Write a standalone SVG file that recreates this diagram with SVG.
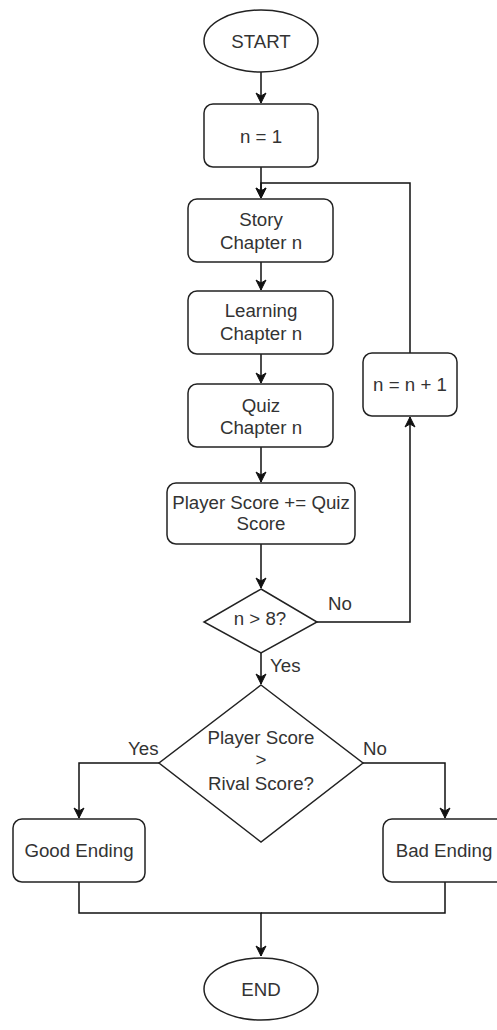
<svg xmlns="http://www.w3.org/2000/svg" width="497" height="1030" viewBox="0 0 497 1030">
<style>
.box{fill:#fff;stroke:#222;stroke-width:1.5}
.t{font-family:"Liberation Sans",Arial,sans-serif;font-size:18.7px;fill:#333;text-anchor:middle}
.lbl{font-family:"Liberation Sans",Arial,sans-serif;font-size:18.7px;fill:#333}
.c{fill:none;stroke:#111;stroke-width:1.5}
</style>
<defs>
<marker id="arr" viewBox="0 0 12 12" markerWidth="12" markerHeight="12" refX="11" refY="6" orient="auto" markerUnits="userSpaceOnUse">
<path d="M1,1 L11,6 L1,11 L4,6 Z" fill="#111" stroke="#111" stroke-width="1"/>
</marker>
</defs>
<rect width="497" height="1030" fill="#fff"/>
<g id="connectors">
<path class="c" d="M261,72 V103" marker-end="url(#arr)"/>
<path class="c" d="M261,167 V198" marker-end="url(#arr)"/>
<path class="c" d="M410,353 V183 H261 V198" marker-end="url(#arr)"/>
<path class="c" d="M261,262 V290" marker-end="url(#arr)"/>
<path class="c" d="M261,354 V383" marker-end="url(#arr)"/>
<path class="c" d="M261,447 V482" marker-end="url(#arr)"/>
<path class="c" d="M261,544 V588" marker-end="url(#arr)"/>
<path class="c" d="M317,622 H410 V417" marker-end="url(#arr)"/>
<path class="c" d="M261,653 V684" marker-end="url(#arr)"/>
<path class="c" d="M159,763 H79 V818" marker-end="url(#arr)"/>
<path class="c" d="M363,763 H445 V818" marker-end="url(#arr)"/>
<path class="c" d="M79,882 V913 H261 V956" marker-end="url(#arr)"/>
<path class="c" d="M445,882 V913 H261"/>
<text class="lbl" x="328" y="610">No</text>
<text class="lbl" x="270" y="672">Yes</text>
<text class="lbl" x="128" y="755">Yes</text>
<text class="lbl" x="363" y="755">No</text>
</g>
<g id="start">
<ellipse class="box" cx="261" cy="41" rx="57" ry="31"/>
<text class="t" x="261" y="47.5">START</text>
</g>
<g id="n1">
<rect class="box" x="204" y="104" width="114" height="63" rx="9"/>
<text class="t" x="261" y="142.5">n = 1</text>
</g>
<g id="story">
<rect class="box" x="188" y="199" width="145" height="63" rx="9"/>
<text class="t" x="261" y="225.5">Story</text>
<text class="t" x="261" y="248.5">Chapter n</text>
</g>
<g id="learning">
<rect class="box" x="188" y="291" width="145" height="63" rx="9"/>
<text class="t" x="261" y="316.5">Learning</text>
<text class="t" x="261" y="339.5">Chapter n</text>
</g>
<g id="quiz">
<rect class="box" x="188" y="384" width="145" height="63" rx="9"/>
<text class="t" x="261" y="411.5">Quiz</text>
<text class="t" x="261" y="433.5">Chapter n</text>
</g>
<g id="score">
<rect class="box" x="167" y="483" width="188" height="61" rx="9"/>
<text class="t" x="261" y="508.5">Player Score += Quiz</text>
<text class="t" x="261" y="529.5">Score</text>
</g>
<g id="increment">
<rect class="box" x="363" y="353" width="94" height="63" rx="9"/>
<text class="t" x="410" y="390.5">n = n + 1</text>
</g>
<g id="check">
<polygon class="box" points="261,589 317,622 261,653 204,622"/>
<text class="t" x="260" y="624.5">n &gt; 8?</text>
</g>
<g id="compare">
<polygon class="box" points="261,685 363,763 261,842 159,763"/>
<text class="t" x="261" y="743.5">Player Score</text>
<text class="t" x="261" y="766">&gt;</text>
<text class="t" x="261" y="789.5">Rival Score?</text>
</g>
<g id="good">
<rect class="box" x="13" y="819" width="132" height="63" rx="9"/>
<text class="t" x="79" y="856.5">Good Ending</text>
</g>
<g id="bad">
<rect class="box" x="383" y="819" width="128" height="63" rx="9"/>
<text class="t" x="444" y="856.5">Bad Ending</text>
</g>
<g id="end">
<ellipse class="box" cx="261" cy="989" rx="57" ry="31"/>
<text class="t" x="261" y="995.5">END</text>
</g>
</svg>
